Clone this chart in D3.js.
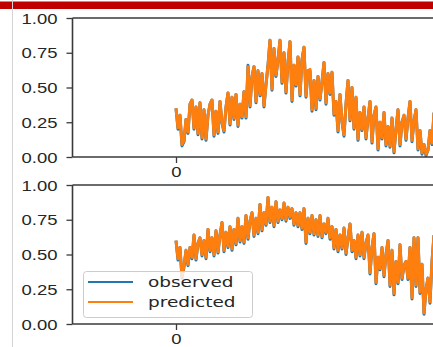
<!DOCTYPE html>
<html>
<head>
<meta charset="utf-8">
<script src="https://cdn.jsdelivr.net/npm/d3@7"></script>
<style>
  html, body { margin: 0; padding: 0; background: #fff; }
  svg { display: block; }
</style>
</head>
<body>
<div id="chart"></div>
<script>
// y ticks shared by both panels
const yTicks = [0, 0.25, 0.5, 0.75, 1];
const xTicks = [0];
const seriesNames = ['observed', 'predicted'];

// top panel
const topObserved = [
  .35,.20,.30,.08,.11,.27,.17,.38,.41,.20,
  .36,.16,.39,.13,.34,.12,.30,.38,.41,.15,
  .33,.17,.40,.24,.18,.36,.46,.23,.43,.27,
  .45,.22,.38,.28,.47,.28,.66,.36,.58,.65,
  .39,.62,.44,.60,.36,.52,.66,.84,.48,.78,
  .58,.70,.84,.53,.75,.46,.68,.83,.40,.66,
  .51,.72,.44,.70,.79,.43,.62,.62,.33,.55,
  .34,.58,.41,.54,.68,.38,.60,.45,.61,.30,
  .40,.18,.45,.25,.15,.38,.55,.26,.50,.20,
  .43,.12,.32,.19,.36,.13,.28,.40,.10,.30,
  .36,.05,.25,.13,.32,.08,.22,.07,.28,.03,
  .20,.34,.08,.25,.30,.12,.28,.40,.11,.26,
  .34,.05,.19,.02,.09,.01,.05,.19,.09,.32
];
const topPredicted = [
  .35,.21,.30,.09,.12,.27,.18,.38,.41,.21,
  .36,.17,.39,.14,.34,.13,.30,.38,.41,.16,
  .33,.18,.40,.25,.19,.36,.46,.24,.43,.28,
  .45,.23,.38,.29,.47,.29,.65,.37,.58,.65,
  .40,.62,.45,.60,.37,.52,.66,.84,.49,.78,
  .59,.70,.84,.54,.75,.47,.68,.83,.41,.66,
  .52,.72,.45,.70,.79,.44,.62,.63,.34,.55,
  .35,.58,.42,.54,.68,.39,.60,.46,.61,.31,
  .40,.19,.45,.26,.16,.38,.55,.27,.50,.21,
  .43,.13,.32,.20,.36,.14,.28,.40,.11,.30,
  .36,.06,.25,.14,.32,.09,.22,.08,.28,.04,
  .20,.34,.09,.25,.30,.13,.28,.40,.12,.26,
  .34,.06,.19,.03,.09,.02,.05,.19,.10,.32
];

// bottom panel
const bottomObserved = [
  .60,.46,.55,.33,.41,.53,.42,.55,.47,.64,
  .46,.58,.62,.49,.60,.47,.68,.52,.62,.49,
  .67,.51,.64,.73,.52,.66,.55,.70,.53,.68,
  .57,.76,.59,.70,.58,.78,.61,.74,.80,.63,
  .76,.65,.86,.67,.80,.71,.91,.73,.84,.70,
  .88,.73,.82,.75,.87,.74,.84,.76,.83,.71,
  .80,.70,.80,.68,.83,.58,.76,.65,.78,.64,
  .75,.63,.78,.62,.72,.65,.76,.61,.70,.54,
  .68,.52,.64,.54,.69,.50,.62,.72,.52,.60,
  .47,.64,.49,.66,.47,.58,.64,.36,.55,.65,
  .29,.48,.39,.55,.34,.50,.60,.27,.53,.21,
  .45,.29,.57,.32,.42,.45,.32,.55,.18,.62,
  .27,.62,.22,.43,.07,.25,.33,.15,.45,.64
];
const bottomPredicted = [
  .60,.47,.55,.34,.42,.53,.43,.55,.48,.64,
  .47,.58,.62,.50,.60,.48,.68,.53,.62,.50,
  .67,.52,.64,.73,.53,.66,.56,.70,.54,.68,
  .58,.76,.60,.70,.59,.78,.62,.74,.80,.64,
  .76,.66,.86,.68,.80,.72,.91,.74,.84,.71,
  .88,.74,.82,.76,.87,.75,.84,.77,.83,.72,
  .80,.71,.80,.69,.83,.59,.76,.66,.78,.65,
  .75,.64,.78,.63,.72,.66,.76,.62,.70,.55,
  .68,.53,.64,.55,.69,.51,.62,.72,.53,.60,
  .48,.64,.50,.66,.48,.58,.64,.37,.55,.65,
  .30,.48,.40,.55,.35,.50,.60,.28,.53,.22,
  .45,.30,.57,.33,.42,.45,.33,.55,.19,.62,
  .28,.62,.23,.43,.08,.25,.33,.16,.45,.64
];

const W = 433, H = 347;
const colors = { observed: '#1f77b4', predicted: '#ff7f0e' };
const sx = 1.32; // the screenshot is stretched sideways
const fontSize = 14;
const textColor = '#262626';
const spineColor = '#3a3a3a';

const svg = d3.select('#chart').append('svg')
  .attr('width', W).attr('height', H)
  .style('font-family', 'DejaVu Sans, sans-serif');

// notebook chrome: red bar and light left rule
svg.append('rect').attr('x', 0).attr('y', 1.5).attr('width', W).attr('height', 7.5).attr('fill', '#c00000');
svg.append('line').attr('x1', 12.5).attr('x2', 12.5).attr('y1', 0).attr('y2', H)
  .attr('stroke', '#d4d4d4').attr('stroke-width', 1);

const left = 72.5, right = 560;
const x = d3.scaleLinear().domain([-51.75, 192]).range([left, right]);

const panels = [
  { top: 18, bottom: 157, observed: topObserved, predicted: topPredicted, legend: false },
  { top: 185, bottom: 324, observed: bottomObserved, predicted: bottomPredicted, legend: true }
];

function stretchText(sel, xPos) {
  sel.each(function () {
    d3.select(this).attr('x', xPos / sx).attr('transform', `scale(${sx},1)`);
  });
}

panels.forEach((p, k) => {
  const y = d3.scaleLinear().domain([0, 1]).range([p.bottom, p.top]);
  const g = svg.append('g');

  const clipId = 'clip' + k;
  svg.append('clipPath').attr('id', clipId).append('rect')
    .attr('x', left).attr('y', p.top - 4).attr('width', right - left).attr('height', p.bottom - p.top + 8);

  const line = d3.line().x((d, i) => x(i)).y(d => y(d));
  const plot = g.append('g').attr('clip-path', `url(#${clipId})`);
  seriesNames.forEach(name => {
    plot.append('path')
      .datum(p[name])
      .attr('d', line)
      .attr('fill', 'none')
      .attr('stroke', colors[name])
      .attr('stroke-width', 3)
      .attr('stroke-linejoin', 'round');
  });

  // y axis
  const ya = g.append('g').attr('transform', `translate(${left},0)`)
    .call(d3.axisLeft(y).tickValues(yTicks).tickFormat(d3.format('.2f')).tickSize(6).tickPadding(9));
  ya.select('.domain').remove();
  ya.selectAll('.tick line').attr('stroke', spineColor).attr('stroke-width', 1.3);
  ya.selectAll('.tick text').attr('fill', textColor).style('font-size', fontSize + 'px')
    .attr('dy', '0.36em').call(stretchText, -15);

  // x axis
  const xa = g.append('g').attr('transform', `translate(0,${p.bottom})`)
    .call(d3.axisBottom(x).tickValues(xTicks).tickFormat(d3.format('d')).tickSize(6).tickPadding(4));
  xa.select('.domain').remove();
  xa.selectAll('.tick line').attr('stroke', spineColor).attr('stroke-width', 1.3);
  xa.selectAll('.tick text').attr('fill', textColor).style('font-size', fontSize + 'px')
    .attr('text-anchor', 'middle').call(stretchText, 0);

  // spines
  g.append('line').attr('x1', left).attr('x2', left).attr('y1', p.top).attr('y2', p.bottom)
    .attr('stroke', spineColor).attr('stroke-width', 1.6);
  g.append('line').attr('x1', left).attr('x2', W).attr('y1', p.bottom).attr('y2', p.bottom)
    .attr('stroke', spineColor).attr('stroke-width', 1.6);
  g.append('line').attr('x1', left).attr('x2', W).attr('y1', p.top).attr('y2', p.top)
    .attr('stroke', spineColor).attr('stroke-width', 1.6);

  if (p.legend) {
    const lg = g.append('g');
    lg.append('rect').attr('x', 83.5).attr('y', 271.5).attr('width', 169).attr('height', 46)
      .attr('rx', 3).attr('fill', 'rgba(255,255,255,0.8)').attr('stroke', '#cccccc');
    seriesNames.forEach((name, i) => {
      const ly = 282 + i * 20;
      lg.append('line').attr('x1', 88).attr('x2', 133).attr('y1', ly).attr('y2', ly)
        .attr('stroke', colors[name]).attr('stroke-width', 2);
      lg.append('text').attr('y', ly).attr('dy', '0.35em')
        .attr('fill', textColor).style('font-size', fontSize + 'px')
        .text(name).call(stretchText, 148);
    });
  }
});
</script>
</body>
</html>
